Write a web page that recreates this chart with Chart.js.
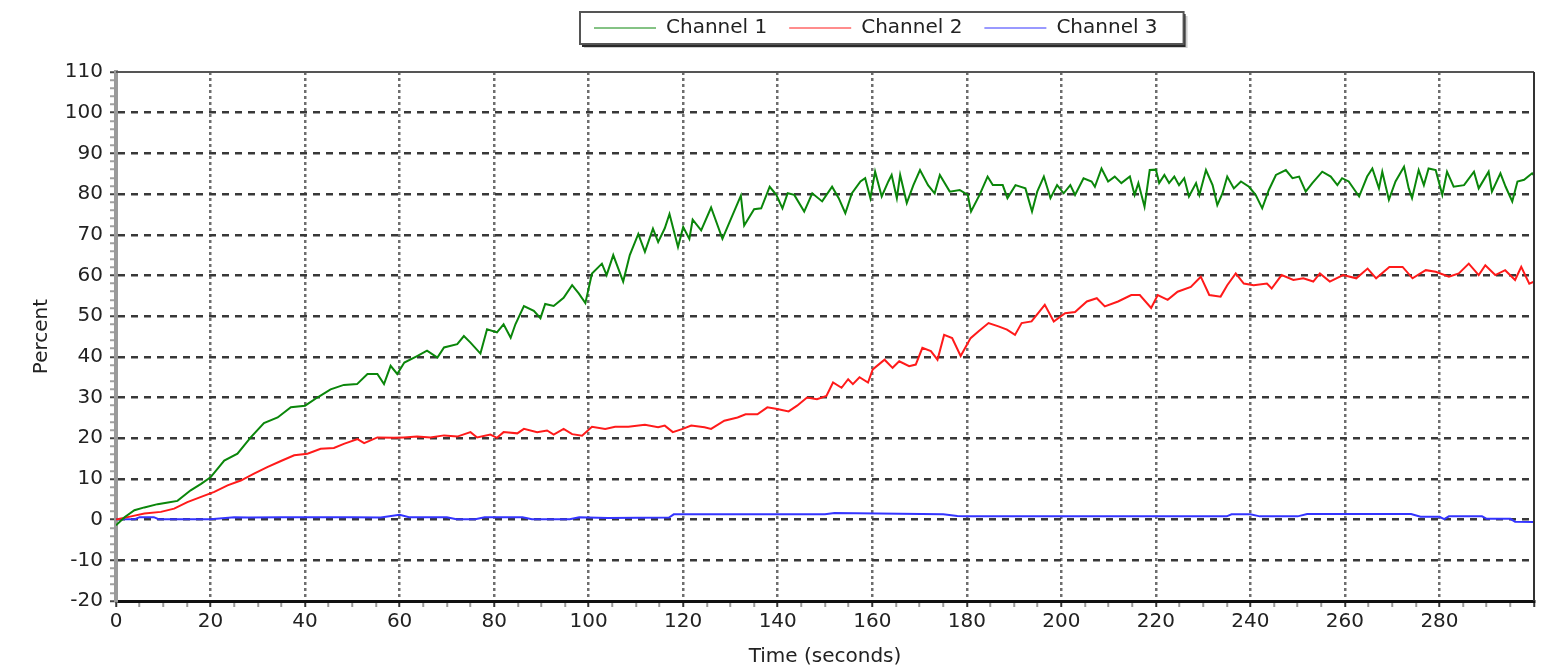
<!DOCTYPE html>
<html>
<head>
<meta charset="utf-8">
<title>Channel levels</title>
<script src="https://cdn.jsdelivr.net/npm/chart.js@4.4.1/dist/chart.umd.min.js"></script>
<style>
  html, body { margin: 0; padding: 0; background: #ffffff; }
  #wrap { width: 1549px; height: 669px; }
</style>
</head>
<body>
<div id="wrap"><canvas id="chart" width="1549" height="669"></canvas></div>
<script>
// Channel 1 samples: time (s) and percent
const ch1Time = [0, 1.8, 3.9, 6, 8.8, 11, 13, 15.8, 18, 20, 22.9, 25.7, 28.5, 31.3, 34.2, 37, 40, 42.6, 45.4, 48.2,
  51, 53.2, 55.3, 56.7, 58.1, 59.5, 61, 63.7, 65.8, 68, 69.4, 72.2, 73.6, 75, 77.1, 78.5, 80.6, 82, 83.5, 84.5,
  86.3, 88.4, 89.8, 90.8, 92.6, 94.7, 96.5, 97.9, 99.3, 100.7, 102.8, 103.8, 105.2, 107.3, 108.7, 110.5, 111.9, 113.6, 114.7, 116.1,
  117.1, 118.9, 120, 121.3, 122, 123.8, 125.9, 128.3, 130.1, 132.2, 132.9, 135,
  136.5, 138.3, 139.7, 141, 142.1, 143.5, 145.6, 147.3, 149.4, 151.5, 152.9, 154.3, 155.7, 157.5, 158.5, 159.6, 160.6, 162, 163.4, 164.1,
  165.2, 165.9, 167.3, 168.7, 170.1, 171.8, 173.2, 174.3, 176.4, 178.5, 180.2, 180.9, 182.7, 184.4, 185.5, 187.6, 188.6, 190.3, 192.4, 193.8,
  194.9, 196.3, 197.7, 199.1, 200.5, 201.9, 202.9, 204.7, 206.4, 207.1, 208.5, 209.9, 211.3, 212.7, 214.5, 215.5, 216.3, 217.6, 218.7,
  220, 220.7, 221.8, 222.8, 223.9, 224.9, 226, 227, 228.5, 229.2, 230.6, 232, 233, 234.1, 235.1, 236.5, 238, 239.7, 241.1, 242.5,
  243.9, 245.4, 247.5, 248.9, 250.3, 251.7, 253.1, 255.2, 257, 258.4, 259.4, 260.8, 263, 264.7, 265.8, 267.2, 267.9, 269.3, 270.7, 272.5,
  273.5, 274.2, 275.6, 276.7, 277.7, 279.2, 280.6, 281.6, 283, 285.2, 287.3, 288.3, 290.4, 291.1, 292.9, 294, 295.4, 296.5, 297.9, 299.6, 300];
const ch1Percent = [-1.4, 0.6, 2.3, 3, 3.8, 4.2, 4.6, 7.2, 8.8, 10.4, 14.5, 16.2, 20.2, 23.7, 25.1, 27.6, 28, 30, 32, 33.1,
  33.3, 35.8, 35.8, 33.3, 37.8, 35.8, 38.6, 40.2, 41.5, 39.8, 42.3, 43.1, 45.1, 43.5, 40.8, 46.8, 46, 48, 44.7, 48,
  52.5, 51.3, 49.5, 53, 52.5, 54.5, 57.6, 55.6, 53.2, 60.5, 62.9, 60.1, 65, 58.5, 65, 70.2, 65.8, 71.5, 68.2, 71.6,
  75.1, 67, 71.9, 69, 73.7, 71.1, 76.7, 69, 73.9, 79.6, 72.3, 76.3,
  76.5, 81.8, 79.8, 76.5, 80.2, 79.8, 75.7, 80.2, 78.2, 81.8, 79, 75.3, 80.2, 83.1, 83.9, 79, 85.5, 79.4, 83.1, 84.7,
  79, 84.7, 77.8, 82.2, 85.9, 82.2, 80.2, 84.7, 80.6, 81, 79.8, 75.7, 79.8, 84.3, 82.2, 82.2, 79, 82.2, 81.4, 75.7,
  80.6, 84.3, 79, 82.2, 80.2, 82.2, 79.8, 83.9, 83.1, 81.8, 86.3, 83.1, 84.3, 82.7, 84.3, 79.8, 82.7, 76.9, 85.9,
  86, 82.7, 84.7, 82.7, 84.3, 82.2, 83.9, 79.4, 82.7, 79.8, 85.9, 82.2, 77.3, 80.2, 84.3, 81.4, 83.1, 81.8, 79.8, 76.5,
  81, 84.7, 85.9, 83.9, 84.3, 80.6, 82.7, 85.5, 84.3, 82.2, 83.9, 83.1, 79.4, 84.3, 86.3, 81.4, 85.5, 78.6, 83.1, 86.7,
  81.4, 79, 85.9, 82.2, 86.3, 85.9, 79.8, 85.5, 81.8, 82.2, 85.5, 81.4, 85.5, 80.6, 85.1, 81.8, 78.2, 83.1, 83.5, 85.1, 84.6];

// Channel 2 samples
const ch2Time = [0, 3.2, 6, 9.5, 12.3, 15.1, 18, 20.8, 23.6, 26.4, 29.2, 32, 34.9, 37.7, 40.5, 43.3, 46.1, 48.2, 51.1, 52.5,
  55.3, 58.8, 60.9, 63.7, 66.5, 69.4, 72.2, 75, 76.4, 79.2, 80.6, 82, 84.9, 86.3, 89.1, 91.2, 92.6, 94.7, 96.5, 98.6,
  100.7, 103.5, 105.6, 108.4, 111.9, 114.7, 116.1, 117.8, 119.9, 121.7, 124.5, 125.9, 128.7, 131.5, 133.2, 135.7, 137.8, 139.9, 142.3, 144.1,
  146.2, 148.3, 150.3, 151.7, 153.5, 154.9, 155.9, 157.3, 159.1, 160.1, 162.6, 164.3, 165.7, 167.8, 169.2, 170.6, 172.4, 173.8, 175.2, 176.9,
  178.7, 180.8, 182.5, 184.6, 186.7, 188.5, 190.2, 191.6, 193.7, 196.5, 198.4, 200.8, 202.9, 205.4, 207.5, 209.2, 212, 214.8, 216.6, 219,
  220.4, 222.5, 224.6, 227.4, 229.5, 231.3, 233.7, 235.1, 236.9, 238.6, 240.7, 243.5, 244.5, 246.6, 249.1, 251.2, 253.3, 254.7, 256.8, 259.6,
  262.4, 264.8, 266.6, 269.4, 272.2, 274.3, 277.1, 279.2, 282, 284.1, 286.2, 288.3, 289.7, 291.8, 293.9, 296, 297.3, 299, 300];
const ch2Percent = [0, 0.8, 1.5, 1.9, 2.7, 4.3, 5.6, 6.8, 8.4, 9.6, 11.3, 12.9, 14.4, 15.8, 16.2, 17.4, 17.6, 18.6, 19.8, 18.8,
  20.2, 20.1, 20.2, 20.4, 20.2, 20.7, 20.4, 21.5, 20.2, 20.9, 20.1, 21.5, 21.2, 22.3, 21.5, 21.9, 20.9, 22.3, 21, 20.6,
  22.8, 22.3, 22.8, 22.8, 23.3, 22.7, 23.1, 21.5, 22.3, 23.1, 22.7, 22.3, 24.3, 25.1, 25.9, 25.9, 27.6, 27.2, 26.6, 28,
  30, 29.6, 30.4, 33.7, 32.4, 34.5, 33.3, 35, 33.7, 36.9, 39.3, 37.3, 38.9, 37.7, 38.1, 42.2, 41.4, 39.3, 45.4, 44.6,
  40.2, 44.6, 46.3, 48.3, 47.5, 46.7, 45.4, 48.3, 48.7, 52.8, 48.7, 50.7, 51, 53.6, 54.4, 52.4, 53.6, 55.2, 55.2, 52,
  55.2, 54, 56, 57.2, 59.7, 55.2, 54.8, 57.6, 60.5, 58, 57.6, 58, 56.8, 60.1, 58.9, 59.3, 58.5, 60.5, 58.5, 60.1,
  59.3, 61.7, 59.3, 62.1, 62.1, 59.3, 61.3, 60.9, 59.7, 60.5, 62.9, 60.1, 62.5, 60.1, 61.3, 58.9, 62.1, 58, 58.5];

// Channel 3 samples
const ch3Time = [0, 4, 5, 8, 9, 20, 25, 28, 35, 38, 45, 50, 56, 60, 62, 70, 72, 76, 78, 86,
  88, 96, 98, 104, 117, 118, 150, 152, 175, 178, 180, 235, 236, 240, 242, 250, 252, 274, 276, 280,
  281, 282, 289, 290, 295, 296, 300];
const ch3Percent = [0.1, 0.1, 0.6, 0.6, 0.1, 0.1, 0.6, 0.5, 0.6, 0.6, 0.6, 0.6, 0.5, 1.2, 0.6, 0.6, 0.1, 0.1, 0.6, 0.6,
  0.1, 0.1, 0.6, 0.4, 0.5, 1.3, 1.3, 1.6, 1.3, 0.9, 0.8, 0.8, 1.3, 1.3, 0.8, 0.8, 1.4, 1.4, 0.7, 0.7,
  0.1, 0.8, 0.8, 0.2, 0.2, -0.5, -0.6];

const seriesNames = ['Channel 1', 'Channel 2', 'Channel 3'];
const yTickStep = 10;     // labelled y ticks
const xTickStep = 20;     // labelled x ticks

const toPoints = (ts, vs) => ts.map((t, i) => ({ x: t, y: vs[i] }));

const FONT = 'DejaVu Sans';
const TEXT = '#222222';

// Legend frame with drop shadow, drawn under the legend items
const legendFrame = {
  id: 'legendFrame',
  afterLayout(chart) {
    const lg = chart.legend;
    if (!lg) return;
    lg.top -= 24;
    lg.bottom -= 24;
    lg.left = 572;
  },
  beforeDraw(chart) {
    const lg = chart.legend;
    if (!lg || !lg.legendHitBoxes || !lg.legendHitBoxes.length) return;
    const hb = lg.legendHitBoxes;
    const first = hb[0], last = hb[hb.length - 1];
    const x0 = first.left - 14;
    const x1 = last.left + last.width + 26;
    const y0 = first.top - 6;
    const y1 = first.top + first.height + 6;
    const ctx = chart.ctx;
    ctx.save();
    ctx.fillStyle = '#cfcfcf';
    ctx.fillRect(x0 + 4, y0 + 4, x1 - x0, y1 - y0);
    ctx.fillStyle = '#2a2a2a';
    ctx.fillRect(x0 + 2, y0 + 2, x1 - x0, y1 - y0 + 1);
    ctx.fillStyle = '#ffffff';
    ctx.fillRect(x0, y0, x1 - x0, y1 - y0);
    ctx.strokeStyle = '#555555';
    ctx.lineWidth = 2;
    ctx.strokeRect(x0, y0, x1 - x0, y1 - y0);
    ctx.restore();
  }
};

// Top and right edges of the plot frame
const plotFrame = {
  id: 'plotFrame',
  afterDatasetsDraw(chart) {
    const { ctx, chartArea: a } = chart;
    ctx.save();
    ctx.strokeStyle = '#555555';
    ctx.lineWidth = 2;
    ctx.beginPath();
    ctx.moveTo(a.left, a.top);
    ctx.lineTo(a.right, a.top);
    ctx.stroke();
    ctx.strokeStyle = '#333333';
    ctx.beginPath();
    ctx.moveTo(a.right, a.top);
    ctx.lineTo(a.right, a.bottom);
    ctx.stroke();
    ctx.restore();
  }
};

new Chart(document.getElementById('chart'), {
  type: 'line',
  data: {
    datasets: [
      { label: seriesNames[0], data: toPoints(ch1Time, ch1Percent), borderColor: '#0a860a', backgroundColor: '#0a860a' },
      { label: seriesNames[1], data: toPoints(ch2Time, ch2Percent), borderColor: '#ff1a1a', backgroundColor: '#ff1a1a' },
      { label: seriesNames[2], data: toPoints(ch3Time, ch3Percent), borderColor: '#3434ff', backgroundColor: '#3434ff' }
    ]
  },
  plugins: [legendFrame, plotFrame],
  options: {
    responsive: false,
    animation: false,
    devicePixelRatio: 1,
    layout: { padding: { left: 26, right: 15, top: 20, bottom: 0 } },
    elements: {
      line: { borderWidth: 2, tension: 0, fill: false },
      point: { radius: 0, hoverRadius: 0 }
    },
    plugins: {
      legend: {
        position: 'top',
        align: 'start',
        labels: {
          usePointStyle: true,
          pointStyle: 'line',
          pointStyleWidth: 62,
          padding: 22,
          color: TEXT,
          font: { family: FONT, size: 20 }
        }
      },
      tooltip: { enabled: false }
    },
    scales: {
      x: {
        type: 'linear',
        min: 0,
        max: 300,
        afterFit(scale) { scale.height = 68; },
        ticks: {
          stepSize: 5,
          autoSkip: false,
          maxRotation: 0,
          padding: 3,
          color: TEXT,
          font: { family: FONT, size: 20 },
          callback: (v) => (v % xTickStep === 0 && v < 300) ? String(v) : ''
        },
        grid: {
          color: (c) => (c.tick && c.tick.value % xTickStep === 0 && c.tick.value > 0 && c.tick.value < 300) ? '#6e6e6e' : 'rgba(0,0,0,0)',
          lineWidth: 2.5,
          drawTicks: true,
          tickLength: 6,
          tickColor: (c) => (c.tick && c.tick.value % xTickStep === 0) ? '#333333' : '#9a9a9a',
          tickWidth: 2,
          tickBorderDash: []
        },
        border: { display: true, color: '#111111', width: 3, dash: [3, 3] },
        title: {
          display: true,
          text: 'Time (seconds)',
          color: TEXT,
          font: { family: FONT, size: 20 },
          padding: { top: 0, bottom: 0 }
        }
      },
      y: {
        type: 'linear',
        min: -20,
        max: 110,
        afterFit(scale) { scale.width = 90; },
        ticks: {
          stepSize: 2,
          autoSkip: false,
          padding: 7,
          color: TEXT,
          font: { family: FONT, size: 20 },
          callback: (v) => (v % yTickStep === 0) ? String(v) : ''
        },
        grid: {
          color: (c) => (c.tick && c.tick.value % yTickStep === 0 && c.tick.value > -20 && c.tick.value < 110) ? '#383838' : 'rgba(0,0,0,0)',
          lineWidth: 2.5,
          drawTicks: true,
          tickLength: 6,
          tickColor: (c) => (c.tick && c.tick.value % yTickStep === 0) ? '#444444' : '#a0a0a0',
          tickWidth: 2,
          tickBorderDash: []
        },
        border: { display: true, color: '#9a9a9a', width: 4, dash: [7, 6] },
        title: {
          display: true,
          text: 'Percent',
          color: TEXT,
          font: { family: FONT, size: 20 },
          padding: { top: 4, bottom: 4 }
        }
      }
    }
  }
});
</script>
</body>
</html>
